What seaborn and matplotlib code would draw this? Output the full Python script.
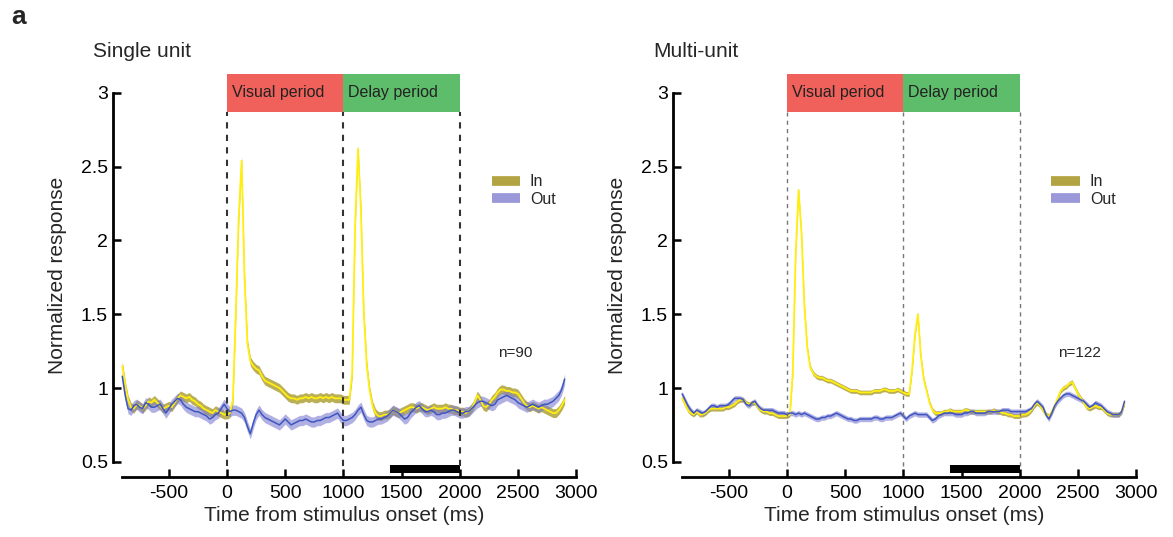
import numpy as np
import seaborn as sns
import matplotlib.pyplot as plt
from matplotlib.lines import Line2D

sns.set_style("white")
plt.rcParams["font.family"] = ["Liberation Sans", "DejaVu Sans"]
plt.rcParams["axes.unicode_minus"] = False

# time axis (ms), one sample every 25 ms
time_ms = np.arange(-900, 2901, 25)

# single unit, preferred location ("In")
su_in = [
    1.15, 1.02, 0.92, 0.87, 0.86, 0.89, 0.88, 0.86,
    0.88, 0.91, 0.90, 0.92, 0.90, 0.88, 0.86, 0.87,
    0.88, 0.87, 0.90, 0.93, 0.95, 0.94, 0.93, 0.94,
    0.92, 0.91, 0.89, 0.88, 0.86, 0.85, 0.84, 0.83,
    0.85, 0.84, 0.83, 0.82, 0.82, 0.83, 0.92, 1.50,
    2.15, 2.54, 1.75, 1.30, 1.18, 1.15, 1.13, 1.12,
    1.08, 1.05, 1.04, 1.03, 1.02, 1.01, 1.00, 0.98,
    0.96, 0.94, 0.93, 0.93, 0.92, 0.93, 0.93, 0.94,
    0.93, 0.94, 0.93, 0.93, 0.94, 0.93, 0.94, 0.93,
    0.94, 0.93, 0.93, 0.93, 0.92, 0.92, 0.92, 1.10,
    2.10, 2.62, 2.20, 1.50, 1.15, 0.98, 0.88, 0.83,
    0.81, 0.81, 0.82, 0.82, 0.83, 0.85, 0.84, 0.83,
    0.84, 0.85, 0.86, 0.87, 0.87, 0.86, 0.87, 0.87,
    0.86, 0.85, 0.86, 0.87, 0.86, 0.86, 0.86, 0.87,
    0.86, 0.86, 0.85, 0.85, 0.84, 0.84, 0.83, 0.84,
    0.86, 0.90, 0.95, 0.92, 0.88, 0.87, 0.89, 0.92,
    0.94, 0.97, 0.99, 0.99, 0.98, 0.98, 0.97, 0.97,
    0.96, 0.93, 0.90, 0.88, 0.87, 0.88, 0.87, 0.86,
    0.87, 0.86, 0.85, 0.84, 0.83, 0.83, 0.85, 0.88,
    0.92,
]

# single unit, non-preferred location ("Out")
su_out = [
    1.08, 0.95, 0.86, 0.85, 0.88, 0.89, 0.87, 0.86,
    0.90, 0.89, 0.87, 0.87, 0.88, 0.89, 0.86, 0.83,
    0.86, 0.89, 0.91, 0.93, 0.92, 0.89, 0.87, 0.86,
    0.85, 0.84, 0.84, 0.83, 0.82, 0.81, 0.79, 0.80,
    0.82, 0.83, 0.86, 0.89, 0.86, 0.84, 0.85, 0.85,
    0.84, 0.83, 0.80, 0.74, 0.69, 0.76, 0.82, 0.85,
    0.82, 0.80, 0.79, 0.78, 0.77, 0.76, 0.75, 0.77,
    0.79, 0.77, 0.75, 0.76, 0.77, 0.78, 0.78, 0.79,
    0.78, 0.77, 0.77, 0.78, 0.78, 0.79, 0.80, 0.80,
    0.81, 0.82, 0.83, 0.80, 0.78, 0.78, 0.79, 0.80,
    0.82, 0.85, 0.87, 0.82, 0.78, 0.77, 0.77, 0.78,
    0.79, 0.79, 0.80, 0.81, 0.83, 0.85, 0.84, 0.83,
    0.81, 0.79, 0.80, 0.83, 0.85, 0.87, 0.88, 0.86,
    0.84, 0.84, 0.85, 0.84, 0.82, 0.82, 0.83, 0.83,
    0.84, 0.85, 0.85, 0.84, 0.83, 0.83, 0.84, 0.84,
    0.86, 0.88, 0.90, 0.91, 0.91, 0.90, 0.89, 0.88,
    0.89, 0.92, 0.93, 0.94, 0.95, 0.94, 0.93, 0.92,
    0.90, 0.89, 0.88, 0.87, 0.88, 0.89, 0.88, 0.87,
    0.88, 0.89, 0.89, 0.90, 0.91, 0.93, 0.95, 0.99,
    1.06,
]

# multi-unit, "In"
mu_in = [
    0.93, 0.89, 0.85, 0.83, 0.82, 0.84, 0.82, 0.82,
    0.83, 0.85, 0.86, 0.86, 0.86, 0.86, 0.86, 0.87,
    0.87, 0.88, 0.89, 0.91, 0.92, 0.92, 0.90, 0.89,
    0.90, 0.90, 0.87, 0.85, 0.84, 0.84, 0.83, 0.83,
    0.82, 0.81, 0.81, 0.81, 0.81, 0.82, 1.10, 1.90,
    2.34, 2.05, 1.56, 1.27, 1.14, 1.10, 1.08, 1.07,
    1.07, 1.06, 1.05, 1.05, 1.04, 1.03, 1.02, 1.01,
    1.00, 0.99, 0.98, 0.98, 0.98, 0.97, 0.97, 0.97,
    0.97, 0.97, 0.98, 0.98, 0.98, 0.99, 0.99, 0.98,
    0.98, 0.98, 0.99, 0.98, 0.97, 0.96, 0.96, 1.12,
    1.36, 1.50, 1.22, 1.06, 0.98, 0.90, 0.85, 0.83,
    0.83, 0.83, 0.84, 0.84, 0.85, 0.84, 0.84, 0.84,
    0.84, 0.85, 0.85, 0.84, 0.84, 0.84, 0.84, 0.84,
    0.84, 0.84, 0.84, 0.85, 0.84, 0.84, 0.83, 0.83,
    0.82, 0.82, 0.81, 0.81, 0.81, 0.82, 0.82, 0.83,
    0.85, 0.88, 0.90, 0.88, 0.85, 0.82, 0.81, 0.84,
    0.88, 0.93, 0.98, 1.00, 1.01, 1.03, 1.04, 1.00,
    0.96, 0.93, 0.90, 0.87, 0.86, 0.87, 0.88, 0.87,
    0.87, 0.85, 0.83, 0.82, 0.82, 0.82, 0.82, 0.84,
    0.90,
]

# multi-unit, "Out"
mu_out = [
    0.96, 0.92, 0.88, 0.85, 0.83, 0.85, 0.84, 0.83,
    0.84, 0.86, 0.88, 0.88, 0.87, 0.88, 0.88, 0.88,
    0.89, 0.91, 0.93, 0.93, 0.93, 0.92, 0.89, 0.88,
    0.90, 0.91, 0.88, 0.86, 0.85, 0.85, 0.85, 0.85,
    0.84, 0.83, 0.83, 0.83, 0.82, 0.83, 0.83, 0.82,
    0.83, 0.82, 0.83, 0.82, 0.81, 0.80, 0.79, 0.79,
    0.80, 0.80, 0.81, 0.81, 0.82, 0.83, 0.82, 0.81,
    0.80, 0.79, 0.79, 0.78, 0.78, 0.79, 0.79, 0.79,
    0.79, 0.79, 0.80, 0.80, 0.79, 0.79, 0.80, 0.80,
    0.80, 0.81, 0.82, 0.83, 0.81, 0.79, 0.81, 0.82,
    0.83, 0.82, 0.82, 0.82, 0.82, 0.80, 0.78, 0.79,
    0.81, 0.82, 0.83, 0.83, 0.83, 0.83, 0.82, 0.82,
    0.82, 0.83, 0.83, 0.84, 0.84, 0.83, 0.83, 0.83,
    0.83, 0.84, 0.84, 0.84, 0.84, 0.84, 0.85, 0.85,
    0.85, 0.84, 0.84, 0.84, 0.84, 0.84, 0.84, 0.85,
    0.86, 0.89, 0.91, 0.89, 0.87, 0.82, 0.79, 0.83,
    0.88, 0.91, 0.93, 0.95, 0.96, 0.96, 0.95, 0.94,
    0.93, 0.92, 0.91, 0.89, 0.87, 0.88, 0.90, 0.89,
    0.88, 0.86, 0.84, 0.83, 0.82, 0.82, 0.82, 0.84,
    0.91,
]

# half-width of the shaded s.e.m. band for each series
su_in_sem, su_out_sem = 0.03, 0.035
mu_in_sem, mu_out_sem = 0.016, 0.018

periods = ["Visual period", "Delay period"]
period_edges = [0, 1000, 2000]
test_window = [1400, 2000]
y_ticks = [0.5, 1, 1.5, 2, 2.5, 3]
y_ticklabels = ["0.5", "1", "1.5", "2", "2.5", "3"]
x_ticks = [-500, 0, 500, 1000, 1500, 2000, 2500, 3000]

panels = [
    ("Single unit", su_in, su_out, su_in_sem, su_out_sem, "n=90", 0.0963),
    ("Multi-unit", mu_in, mu_out, mu_in_sem, mu_out_sem, "n=122", 0.5736),
]

in_line, in_band = "#FFEE10", "#A99B2C"
out_line, out_band = "#3F56C2", "#7C7CD0"
box_colors = ["#EF615A", "#5DBD6B"]

fig = plt.figure(figsize=(11.73, 5.37), dpi=100)
fig.text(0.010, 0.968, "a", fontsize=19, fontweight="bold", va="center")

for i, (title, y_in, y_out, s_in, s_out, n_label, left) in enumerate(panels):
    ax = fig.add_axes([left, 0.1125, 0.395, 0.7505])
    y_in = np.array(y_in)
    y_out = np.array(y_out)

    ax.fill_between(time_ms, y_in - s_in, y_in + s_in, color=in_band, alpha=0.8, lw=0)
    sns.lineplot(x=time_ms, y=y_in, ax=ax, color=in_line, lw=1.3)
    ax.fill_between(time_ms, y_out - s_out, y_out + s_out, color=out_band, alpha=0.6, lw=0)
    sns.lineplot(x=time_ms, y=y_out, ax=ax, color=out_line, lw=1.1)

    # task period boxes
    for j, name in enumerate(periods):
        x0, x1 = period_edges[j], period_edges[j + 1]
        ax.fill_between([x0, x1], 2.87, 3.13, color=box_colors[j], lw=0)
        ax.text(x0 + 40, 3.0, name, fontsize=11.5, va="center", ha="left", color="#222222")

    dash_color = "#333333" if i == 0 else "#777777"
    dash_lw = 1.5 if i == 0 else 1.0
    for edge in period_edges:
        ax.plot([edge, edge], [0.47, 2.87], ls=(0, (3, 3)), color=dash_color, lw=dash_lw)

    # analysis window bar
    ax.fill_between(test_window, 0.425, 0.48, color="black", lw=0)

    ax.text(2330, 1.24, n_label, fontsize=11, va="center")

    handles = [Line2D([0], [0], color="#B3A443", lw=7, solid_capstyle="butt"),
               Line2D([0], [0], color="#9B98DA", lw=7, solid_capstyle="butt")]
    ax.legend(handles, ["In", "Out"], loc="upper left", bbox_to_anchor=(0.80, 0.77),
              frameon=False, fontsize=11.5, handlelength=1.8, handletextpad=0.6,
              labelspacing=0.15, borderpad=0)

    ax.set_xlim(-980, 3000)
    ax.set_ylim(0.40, 3.13)
    ax.set_xticks(x_ticks)
    ax.set_yticks(y_ticks)
    ax.set_yticklabels(y_ticklabels)
    ax.spines["top"].set_visible(False)
    ax.spines["right"].set_visible(False)
    ax.spines["left"].set_bounds(0.5, 3)
    ax.spines["bottom"].set_bounds(-900, 3000)
    for side in ["left", "bottom"]:
        ax.spines[side].set_linewidth(2)
        ax.spines[side].set_color("black")
    ax.tick_params(axis="both", direction="in", length=6, width=1.8,
                   labelsize=14, colors="black", left=True, bottom=True)
    ax.tick_params(axis="x", pad=6)
    ax.set_xlabel("Time from stimulus onset (ms)", fontsize=15, labelpad=3)
    ax.set_ylabel("Normalized response", fontsize=15, labelpad=10)
    fig.text(left - 0.017, 0.905, title, fontsize=15, va="center")

fig.savefig("out.png", dpi=100)
